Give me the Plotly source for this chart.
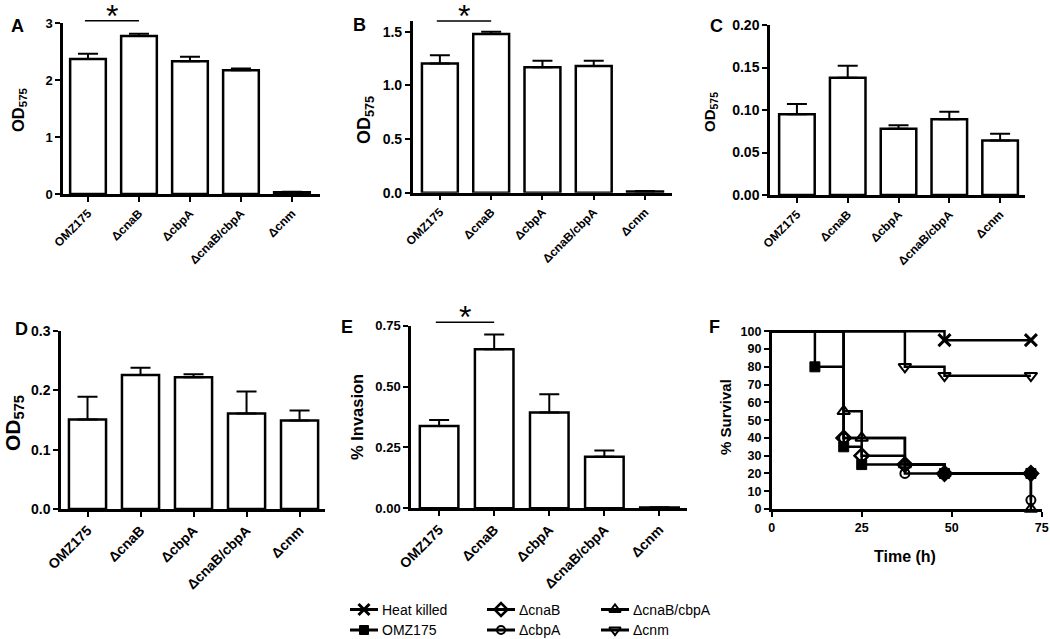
import plotly.graph_objects as go

W, H = 1050, 639
FONT = "Arial, Liberation Sans, Helvetica, sans-serif"

# ---------------- data ----------------
strains = ["OMZ175", "ΔcnaB", "ΔcbpA", "ΔcnaB/cbpA", "Δcnm"]

a_mean = [2.37, 2.77, 2.33, 2.17, 0.03]
a_sem = [0.09, 0.04, 0.08, 0.03, 0.01]

b_mean = [1.205, 1.478, 1.17, 1.18, 0.012]
b_sem = [0.075, 0.022, 0.06, 0.05, 0.004]

c_mean = [0.095, 0.138, 0.078, 0.089, 0.064]
c_sem = [0.012, 0.014, 0.004, 0.009, 0.008]

d_mean = [0.151, 0.226, 0.222, 0.161, 0.149]
d_sem = [0.038, 0.012, 0.005, 0.037, 0.017]

e_mean = [0.338, 0.653, 0.393, 0.212, 0.003]
e_sem = [0.025, 0.061, 0.075, 0.025, 0.001]

# survival (Kaplan-Meier style steps)
surv_names = ["Heat killed", "OMZ175", "ΔcnaB", "ΔcbpA", "ΔcnaB/cbpA", "Δcnm"]
t_heat = [0, 48, 72]
s_heat = [100, 95, 95]
t_omz = [0, 12, 20, 25, 48, 72]
s_omz = [100, 80, 35, 25, 20, 20]
t_cnab = [0, 20, 25, 37, 48, 72]
s_cnab = [100, 40, 30, 25, 20, 20]
t_cbpa = [0, 20, 37, 72]
s_cbpa = [100, 40, 20, 5]
t_dbl = [0, 20, 25, 37, 48, 72]
s_dbl = [100, 55, 40, 25, 20, 0]
t_cnm = [0, 37, 48, 72]
s_cnm = [100, 80, 75, 75]

surv_t = [t_heat, t_omz, t_cnab, t_cbpa, t_dbl, t_cnm]
surv_s = [s_heat, s_omz, s_cnab, s_cbpa, s_dbl, s_cnm]

# ---------------- helpers ----------------
def fx(px):
    return px / W

def fy(py):
    return 1 - py / H

idx = list(range(len(strains)))

panels = [
    dict(L="A", mean=a_mean, sem=a_sem, yr=[0, 3], dtick=1, fmt="d",
         dom=(63, 320, 23, 194), xr=[-0.49, 4.55], tfs=13, xfs=12,
         title="OD<sub>575</sub>", tpos=(19, 110), tsize=16.5, lpos=(17, 26),
         sig=3.04),
    dict(L="B", mean=b_mean, sem=b_sem, yr=[0, 1.6], dtick=0.5, fmt=".1f",
         dom=(412.7, 671.7, 21, 192.7), xr=[-0.53, 4.52], tfs=14, xfs=12,
         title="OD<sub>575</sub>", tpos=(365, 120), tsize=18, lpos=(359, 25),
         sig=1.60),
    dict(L="C", mean=c_mean, sem=c_sem, yr=[0, 0.2], dtick=0.05, fmt=".2f",
         dom=(770, 1025, 25, 195), xr=[-0.53, 4.49], tfs=14, xfs=12,
         title="OD<sub>575</sub>", tpos=(711, 112), tsize=15, lpos=(716, 26),
         sig=None),
    dict(L="D", mean=d_mean, sem=d_sem, yr=[0, 0.3], dtick=0.1, fmt=".1f",
         dom=(61, 325, 331, 509), xr=[-0.5, 4.48], tfs=14, xfs=14,
         title="OD<sub>575</sub>", tpos=(14, 423), tsize=21, lpos=(21, 329),
         sig=None),
    dict(L="E", mean=e_mean, sem=e_sem, yr=[0, 0.75], dtick=0.25, fmt=".2f",
         dom=(411, 687, 325.7, 508.3), xr=[-0.51, 4.5], tfs=13, xfs=14,
         title="% Invasion", tpos=(357, 417), tsize=16.5, lpos=(347, 327),
         sig=0.764),
]

fig = go.Figure()
layout = dict(
    template="none",
    width=W, height=H, margin=dict(l=0, r=0, t=0, b=0, pad=0),
    paper_bgcolor="white", plot_bgcolor="rgba(0,0,0,0)",
    font=dict(family=FONT, color="black"),
    showlegend=False,
)
annotations = []
shapes = []

axis_common = dict(showline=True, linewidth=2.5, linecolor="black",
                   ticks="outside", ticklen=5, tickwidth=2, tickcolor="black",
                   showgrid=False, zeroline=False, fixedrange=True,
                   automargin=False, ticklabeloverflow="allow")

for i, p in enumerate(panels, start=1):
    xa = "x" if i == 1 else f"x{i}"
    ya = "y" if i == 1 else f"y{i}"
    xk = "xaxis" if i == 1 else f"xaxis{i}"
    yk = "yaxis" if i == 1 else f"yaxis{i}"
    x0, x1, ytop, ybot = p["dom"]
    fig.add_trace(go.Bar(
        x=idx, y=p["mean"], width=0.7, xaxis=xa, yaxis=ya, showlegend=False,
        marker=dict(color="white", line=dict(color="black", width=2.5)),
        error_y=dict(type="data", symmetric=False, array=p["sem"],
                     arrayminus=[0] * len(idx), thickness=2, width=10,
                     color="black"),
        cliponaxis=False,
    ))
    layout[xk] = dict(axis_common, domain=[fx(x0), fx(x1)], anchor=ya,
                      range=p["xr"], tickvals=idx, ticktext=strains,
                      tickangle=-45,
                      tickfont=dict(family=FONT, size=p["xfs"], weight="bold"))
    layout[yk] = dict(axis_common, domain=[fy(ybot), fy(ytop)], anchor=xa,
                      range=p["yr"], dtick=p["dtick"], tick0=0,
                      tickformat=p["fmt"],
                      tickfont=dict(family=FONT, size=p["tfs"], weight="bold"))
    annotations.append(dict(
        text=p["title"], x=fx(p["tpos"][0]), y=fy(p["tpos"][1]),
        xref="paper", yref="paper", showarrow=False, textangle=-90,
        xanchor="center", yanchor="middle",
        font=dict(family=FONT, size=p["tsize"], weight="bold")))
    annotations.append(dict(
        text=p["L"], x=fx(p["lpos"][0]), y=fy(p["lpos"][1]),
        xref="paper", yref="paper", showarrow=False,
        xanchor="center", yanchor="middle",
        font=dict(family=FONT, size=18, weight="bold")))
    if p["sig"] is not None:
        yd = p["sig"] / p["yr"][1]
        shapes.append(dict(type="line", xref=xa, yref=f"{ya} domain",
                           x0=-0.06, x1=1.0, y0=yd, y1=yd,
                           line=dict(color="black", width=1.5)))
        annotations.append(dict(
            text="*", x=0.47, y=yd, xref=xa, yref=f"{ya} domain",
            showarrow=False, xanchor="center", yanchor="bottom", yshift=-14,
            borderpad=0, font=dict(family=FONT, size=32)))

# ---------------- panel F ----------------
styles = [
    dict(symbol="x-thin-open", size=12, lw=3),
    dict(symbol="square", size=10, lw=1),
    dict(symbol="diamond-open", size=11, lw=2.5),
    dict(symbol="circle-open", size=9, lw=2),
    dict(symbol="triangle-up-open", size=11, lw=2),
    dict(symbol="triangle-down-open", size=11, lw=2),
]

for name, t, s, st in zip(surv_names, surv_t, surv_s, styles):
    mk = dict(symbol=st["symbol"], size=st["size"], color="black",
              line=dict(color="black", width=st["lw"]))
    fig.add_trace(go.Scatter(
        x=t, y=s, mode="lines", name=name,
        line=dict(color="black", width=2.5, shape="hv"),
        xaxis="x6", yaxis="y6", showlegend=False, cliponaxis=False))
    fig.add_trace(go.Scatter(
        x=t[1:], y=s[1:], mode="markers", marker=mk, name=name,
        xaxis="x6", yaxis="y6", showlegend=False, cliponaxis=False))

layout["xaxis6"] = dict(axis_common, domain=[fx(771.7), fx(1041.7)],
                        anchor="y6", range=[0, 75], tickvals=[0, 25, 50, 75],
                        tickfont=dict(family=FONT, size=12.5, weight="bold"))
layout["yaxis6"] = dict(axis_common, domain=[fy(509), fy(329.5)],
                        anchor="x6", range=[0, 101], tickvals=list(range(0, 101, 10)),
                        tickfont=dict(family=FONT, size=12.5, weight="bold"))
annotations.append(dict(text="% Survival", x=fx(725), y=fy(417),
                        xref="paper", yref="paper", showarrow=False,
                        textangle=-90, xanchor="center", yanchor="middle",
                        font=dict(family=FONT, size=15, weight="bold")))
annotations.append(dict(text="Time (h)", x=fx(905), y=fy(556),
                        xref="paper", yref="paper", showarrow=False,
                        xanchor="center", yanchor="middle",
                        font=dict(family=FONT, size=16, weight="bold")))
annotations.append(dict(text="F", x=fx(714), y=fy(327),
                        xref="paper", yref="paper", showarrow=False,
                        xanchor="center", yanchor="middle",
                        font=dict(family=FONT, size=18, weight="bold")))

# ---------------- key for panel F (3 columns x 2 rows, pixel layout) ----------
key_cols = [350, 487, 601]       # left end of the key line, px
key_rows = [609.5, 630]          # row centre, px
key_len = 28
key_cell = [(0, 0), (1, 0), (0, 1), (1, 1), (0, 2), (1, 2)]  # (row, col) per series

layout["xaxis7"] = dict(domain=[0, 1], range=[0, W], visible=False,
                        anchor="y7", fixedrange=True)
layout["yaxis7"] = dict(domain=[0, 1], range=[H, 0], visible=False,
                        anchor="x7", fixedrange=True)
for name, st, (r, c) in zip(surv_names, styles, key_cell):
    x0 = key_cols[c]
    yy = key_rows[r]
    mk = dict(symbol=st["symbol"], size=st["size"] - 1, color="black",
              line=dict(color="black", width=st["lw"]))
    fig.add_trace(go.Scatter(
        x=[x0, x0 + key_len], y=[yy, yy], mode="lines",
        line=dict(color="black", width=3), xaxis="x7", yaxis="y7",
        showlegend=False, hoverinfo="skip", cliponaxis=False))
    fig.add_trace(go.Scatter(
        x=[x0 + key_len / 2], y=[yy], mode="markers", marker=mk,
        xaxis="x7", yaxis="y7", showlegend=False, hoverinfo="skip",
        cliponaxis=False))
    annotations.append(dict(text=name, x=x0 + key_len + 3, y=yy,
                            xref="x7", yref="y7", showarrow=False,
                            xanchor="left", yanchor="middle", borderpad=0,
                            font=dict(family=FONT, size=14, color="black")))

layout["annotations"] = annotations
layout["shapes"] = shapes
fig.update_layout(**layout)

fig.write_html("out.html", config={"displayModeBar": False},
               post_script="document.body.style.margin='0px';"
                           "document.body.style.overflow='hidden';")
